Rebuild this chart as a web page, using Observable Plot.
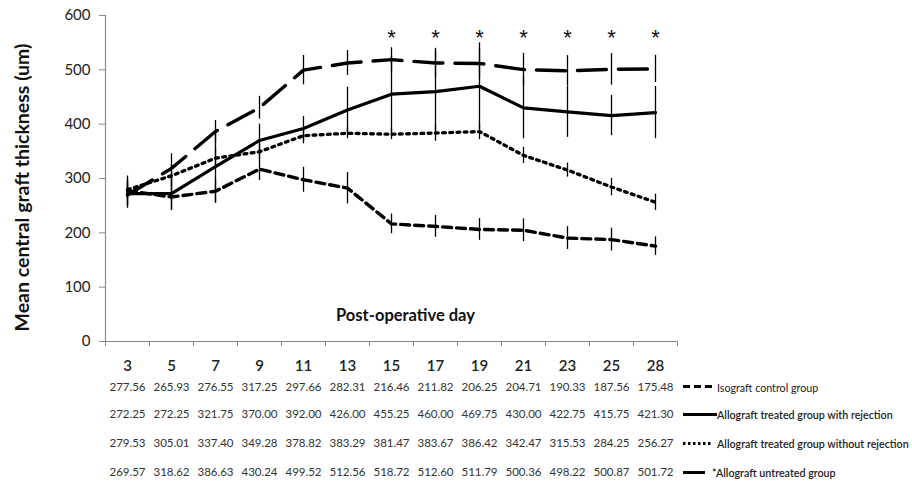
<!DOCTYPE html>
<html>
<head>
<meta charset="utf-8">
<script src="https://cdn.jsdelivr.net/npm/d3@7"></script>
<script src="https://cdn.jsdelivr.net/npm/@observablehq/plot@0.6"></script>
<style>
  html, body { margin: 0; padding: 0; background: #fff; }
  #wrap { position: relative; width: 912px; height: 481px; font-family: Lato, "Open Sans", sans-serif; }
  #legend { position: absolute; left: 683px; top: 0; }
  .lrow { position: absolute; left: 0; display: flex; align-items: center; white-space: nowrap; font-size: 10.7px; color: #222; transform: translateY(-50%); }
  .lrow svg { display: block; }
</style>
</head>
<body>
<div id="wrap"></div>
<script>
// ---- data ----
const days = [3, 5, 7, 9, 11, 13, 15, 17, 19, 21, 23, 25, 28];
const seriesNames = [
  "Isograft control group",
  "Allograft treated group with rejection",
  "Allograft treated group without rejection",
  "*Allograft untreated group"
];
const isograft    = [277.56, 265.93, 276.55, 317.25, 297.66, 282.31, 216.46, 211.82, 206.25, 204.71, 190.33, 187.56, 175.48];
const rejection   = [272.25, 272.25, 321.75, 370.00, 392.00, 426.00, 455.25, 460.00, 469.75, 430.00, 422.75, 415.75, 421.30];
const noRejection = [279.53, 305.01, 337.40, 349.28, 378.82, 383.29, 381.47, 383.67, 386.42, 342.47, 315.53, 284.25, 256.27];
const untreated   = [269.57, 318.62, 386.63, 430.24, 499.52, 512.56, 518.72, 512.60, 511.79, 500.36, 498.22, 500.87, 501.72];
// error bar half-lengths
const isograftErr    = [27, 25, 22, 21, 23, 29, 18, 20, 20, 21, 21, 21, 17];
const rejectionErr   = [27, 30, 67, 30, 22, 42, 70, 75, 80, 57, 47, 37, 48];
const noRejectionErr = [15, 20, 20, 15, 15, 10, 10, 15, 15, 15, 13, 16, 15];
const untreatedErr   = [20, 27, 20, 21, 27, 23, 22, 27, 27, 30, 28, 29, 25];
const significantDays = [15, 17, 19, 21, 23, 25, 28];
const yTicks = [0, 100, 200, 300, 400, 500, 600];
const yLabel = "Mean central graft thickness (um)";
const xLabel = "Post-operative day";

const values = [isograft, rejection, noRejection, untreated];
const errs = [isograftErr, rejectionErr, noRejectionErr, untreatedErr];
const dashes = ["9,5", null, "2.8,4.4", "29,12"];
const widths = [3.4, 3.2, 3.3, 3.4];
const rowOffsets = [45.5, 73, 102, 131];

const rows = seriesNames.flatMap((name, s) =>
  days.map((day, i) => ({series: name, s, i, day, value: values[s][i], err: errs[s][i]})));

const idx = days.map((d, i) => i);
const boundaries = d3.range(-0.5, days.length, 1);

const lineMarks = seriesNames.map((name, s) =>
  Plot.line(rows.filter(r => r.s === s), {
    x: "i", y: "value", stroke: "#000", strokeWidth: widths[s],
    strokeDasharray: dashes[s] || undefined, strokeLinejoin: "round"
  }));

const tableMarks = seriesNames.map((name, s) =>
  Plot.text(rows.filter(r => r.s === s), {
    x: "i", frameAnchor: "bottom", lineAnchor: "middle", dy: rowOffsets[s],
    text: d => d.value.toFixed(2), fontSize: 11.5, fill: "#333"
  }));

const chart = Plot.plot({
  width: 912,
  height: 481,
  marginLeft: 105,
  marginRight: 235,
  marginTop: 15,
  marginBottom: 140,
  style: {fontFamily: "Lato, 'Open Sans', sans-serif", background: "#fff"},
  x: {type: "linear", domain: [-0.5, days.length - 0.5]},
  y: {domain: [0, 600]},
  marks: [
    Plot.ruleX([-0.5], {stroke: "#8a8a8a", strokeWidth: 1.2}),
    Plot.ruleY([0], {stroke: "#8a8a8a", strokeWidth: 1.2}),
    Plot.axisY({ticks: yTicks, tickSize: 6, tickPadding: 9, fontSize: 15, stroke: "#8a8a8a", fill: "#222", label: null}),
    Plot.axisX({ticks: boundaries, tickSize: 5, tickFormat: () => "", stroke: "#8a8a8a", label: null}),
    Plot.axisX({ticks: idx, tickSize: 0, tickPadding: 19, tickFormat: i => days[i], fontSize: 15, fontWeight: 600, fill: "#222", label: null}),
    Plot.text([yLabel], {frameAnchor: "left", textAnchor: "middle", lineAnchor: "middle", dx: -83, dy: 9, rotate: -90, fontSize: 19.5, fontWeight: "bold", fill: "#111"}),
    Plot.text([xLabel], {frameAnchor: "bottom", lineAnchor: "middle", dx: 14, dy: -26, fontSize: 16.5, fontWeight: "bold", fill: "#111"}),
    Plot.ruleX(rows, {x: "i", y1: d => d.value - d.err, y2: d => d.value + d.err, stroke: "#000", strokeWidth: 1.3}),
    ...lineMarks,
    Plot.text(significantDays, {x: d => days.indexOf(d), frameAnchor: "top", lineAnchor: "top", dy: 14, text: () => "*", fontSize: 22, fontFamily: "Liberation Sans, Arial, sans-serif", fill: "#111"}),
    ...tableMarks
  ]
});

const wrap = document.getElementById("wrap");
wrap.appendChild(chart);

// legend (below-plot area, right of the table)
const legend = document.createElement("div");
legend.id = "legend";
const sampleW = [29, 34, 30, 22];
const labelGap = [5, 0, 4, 7];
seriesNames.forEach((name, s) => {
  const row = document.createElement("div");
  row.className = "lrow";
  row.style.top = (341 + rowOffsets[s]) + "px";
  const svg = d3.create("svg").attr("width", sampleW[s]).attr("height", 8);
  svg.append("line").attr("x1", 0).attr("x2", sampleW[s]).attr("y1", 4).attr("y2", 4)
    .attr("stroke", "#000").attr("stroke-width", 3)
    .attr("stroke-dasharray", s === 0 ? "7,4" : s === 2 ? "2.5,2.5" : null);
  row.appendChild(svg.node());
  const span = document.createElement("span");
  span.style.marginLeft = labelGap[s] + "px";
  span.style.fontWeight = s === 0 ? "normal" : "600";
  span.textContent = name;
  row.appendChild(span);
  legend.appendChild(row);
});
wrap.appendChild(legend);
</script>
</body>
</html>
